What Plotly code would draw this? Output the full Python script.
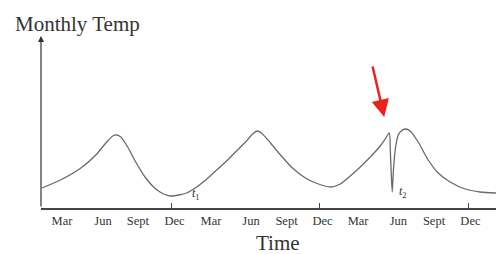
import plotly.graph_objects as go

# month index (Dec of year 1 = 12) and temperature (arbitrary units)
months = [1.5, 3.0, 4.65, 5.86, 6.67, 7.23, 7.56, 7.88, 8.44, 9.09, 9.90, 10.71, 11.35, 11.92,
          12.57, 13.21, 14.02, 14.75, 15.56, 16.36, 17.17, 17.98, 18.55, 18.95, 19.35, 20.0,
          20.81, 21.78, 22.83, 23.88, 24.85, 25.66, 26.46, 27.27, 28.08, 28.89, 29.29, 29.62,
          29.70, 29.78, 29.86, 29.94, 30.10, 30.34, 30.59, 30.91, 31.31, 31.96, 32.77, 33.58,
          34.55, 35.76, 36.97, 38.26]
temps = [10, 14, 20, 26.5, 32.5, 36, 36.5, 35.5, 30.5, 23, 15, 9.5, 7, 6,
         6.5, 7.5, 10.5, 14, 18.5, 23, 28, 33, 37, 38.5, 37, 32.5,
         26.5, 20, 15, 12, 10.5, 12, 16, 20.5, 25.5, 31, 34.5, 37.5,
         29, 17, 8, 17.5, 29, 36.5, 38.5, 39.5, 38.5, 33, 24, 17.5,
         13, 9.5, 8, 7.5]

tick_pos = [3.12, 6.44, 9.27, 12.23, 15.18, 18.42, 21.30, 24.21, 27.09, 30.36, 33.24, 36.19]
tick_text = ["Mar", "Jun", "Sept", "Dec", "Mar", "Jun", "Sept", "Dec", "Mar", "Jun", "Sept", "Dec"]
dec_ticks = [12, 24, 36]

x_range = [1.42, 38.26]
y_range = [0, 86]

serif = "Liberation Serif, Times New Roman, serif"
ink = "#333333"

fig = go.Figure()
fig.add_trace(go.Scatter(x=months, y=temps, mode="lines",
                         line=dict(color="#6a6a6a", width=1.3, shape="spline", smoothing=0.7),
                         hoverinfo="skip", showlegend=False))
# invisible trace on second x axis so Dec tick marks render
fig.add_trace(go.Scatter(x=dec_ticks, y=[None] * 3, xaxis="x2", mode="lines",
                         showlegend=False, hoverinfo="skip"))

fig.update_layout(
    width=496, height=254,
    margin=dict(l=41, r=0, t=36, b=46, autoexpand=False),
    paper_bgcolor="white", plot_bgcolor="white",
    xaxis=dict(range=x_range, showgrid=False, zeroline=False,
               showline=True, linecolor="#444444", linewidth=2,
               tickmode="array", tickvals=tick_pos, ticktext=tick_text,
               ticks="", ticklabelstandoff=0,
               tickfont=dict(family=serif, size=12.5, color=ink)),
    xaxis2=dict(range=x_range, overlaying="x", matches="x", showgrid=False,
                zeroline=False, showline=False, tickmode="array",
                tickvals=dec_ticks, ticks="inside", ticklen=5,
                tickcolor="#444444", tickwidth=1, showticklabels=False,
                side="bottom"),
    yaxis=dict(range=y_range, showgrid=False, zeroline=False, showline=False,
               showticklabels=False, ticks=""),
)

# y axis arrow
fig.add_annotation(x=0, y=1, xref="paper", yref="paper", ax=0, ay=172, axref="pixel", ayref="pixel",
                   showarrow=True, arrowhead=2, arrowsize=1, arrowwidth=1.2,
                   arrowcolor="#333333", text="")
# red arrow
fig.add_annotation(x=29.21, y=45.5, ax=28.24, ay=71.5, xref="x", yref="y", axref="x", ayref="y",
                   showarrow=True, arrowhead=2, arrowsize=1.4, arrowwidth=2.5,
                   arrowcolor="#e8231c", text="")
fig.add_annotation(text="Monthly Temp", x=(13 - 41) / 455, y=(208 - 24) / 172,
                   xref="paper", yref="paper", showarrow=False,
                   font=dict(family=serif, size=21, color=ink), xanchor="left", yanchor="middle")
fig.add_annotation(text="Time", x=(278 - 41) / 455, y=(208 - 243) / 172,
                   xref="paper", yref="paper", showarrow=False,
                   font=dict(family=serif, size=21, color=ink), xanchor="center", yanchor="middle")
fig.add_annotation(text="<i>t</i><sub>1</sub>", x=14.0, y=7.0, xref="x", yref="y",
                   showarrow=False, font=dict(family=serif, size=12, color=ink))
fig.add_annotation(text="<i>t</i><sub>2</sub>", x=30.7, y=8.0, xref="x", yref="y",
                   showarrow=False, font=dict(family=serif, size=12, color=ink))

fig.write_html("out.html", config={"displayModeBar": False},
               post_script="document.body.style.margin='0px';")
